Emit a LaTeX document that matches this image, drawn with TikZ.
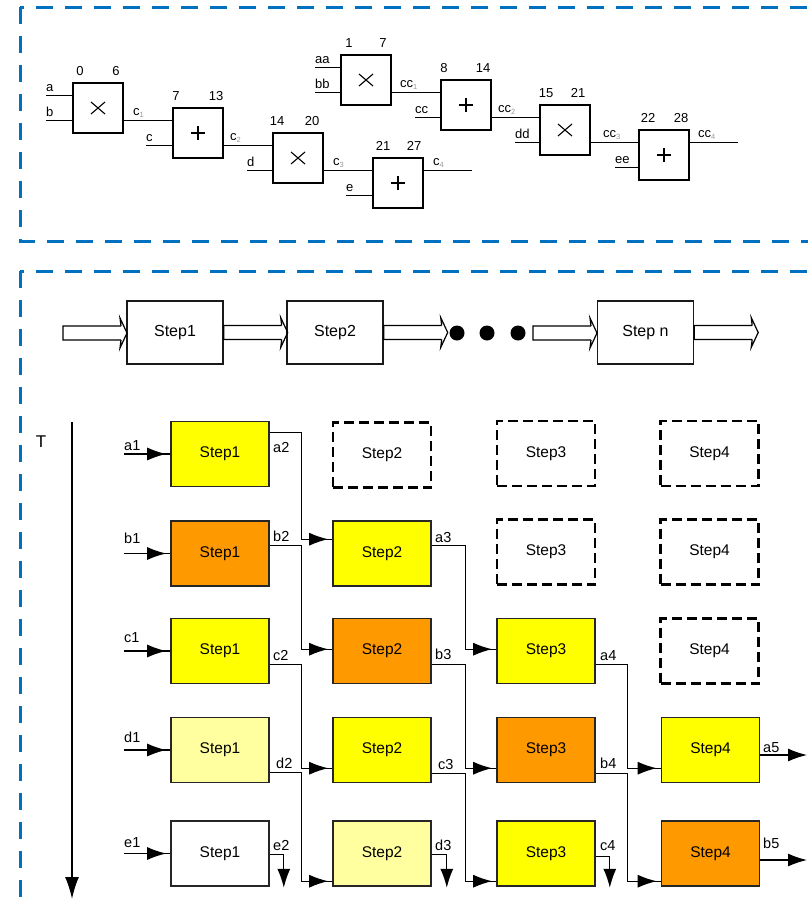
\documentclass[tikz,border=0pt]{standalone}
\usepackage{fontspec}
\setmainfont{Liberation Sans}
\usetikzlibrary{arrows.meta,calc}
\definecolor{frameblue}{HTML}{0070C0}
\definecolor{yel}{HTML}{FFFF00}
\definecolor{org}{HTML}{FF9900}
\definecolor{lyel}{HTML}{FFFFA0}
\newcommand\sbs[1]{\raisebox{-2pt}{\fontsize{7.5pt}{7.5pt}\selectfont\textcolor{black!40}{#1}}}
\newcommand\steplink[5]{\draw[flow] ($(#1.north east)+(0,#2)$) -| ($(#4.north west)+(-#3,#5)$) -- ($(#4.north west)+(0,#5)$);}
\begin{document}
\begin{tikzpicture}[x=1pt, y=-1pt,
  bframe/.style={draw=frameblue, line width=3pt, dash pattern=on 17pt off 12pt},
  gate/.style={draw, line width=1.4pt, minimum width=50pt, minimum height=50pt, inner sep=0pt, outer sep=0pt, anchor=north west},
  mulg/.style={gate, path picture={\draw[line width=1.1pt] (path picture bounding box.center) +(-7,-6) -- +(7,6) +(-7,6) -- +(7,-6);}},
  addg/.style={gate, path picture={\draw[line width=1.1pt] (path picture bounding box.center) +(-7,0) -- +(7,0) +(0,-7) -- +(0,7);}},
  wire/.style={line width=1.3pt},
  tl/.style={font=\fontsize{13pt}{13pt}\selectfont, inner sep=0pt},
  gl/.style={font=\fontsize{14.5pt}{14.5pt}\selectfont, inner sep=0pt, anchor=base west},
  pbox/.style={draw=black!90, line width=1.4pt, minimum width=96pt, minimum height=63pt, inner sep=0pt, font=\fontsize{16pt}{16pt}\selectfont},
  sbox/.style={draw=black!85, line width=1.6pt, minimum width=98pt, minimum height=65pt, inner sep=0pt, font=\fontsize{15.5pt}{16pt}\selectfont},
  ghost/.style={sbox, draw=black, line width=2.8pt, dash pattern=on 10pt off 5pt},
  flow/.style={line width=1.3pt, postaction={draw, line width=1.3pt, -{Latex[length=19pt,width=13pt]}, shorten >=4pt}},
  dflow/.style={line width=1.3pt, -{Latex[length=19pt,width=13pt]}},
  harrow/.pic={\draw[line width=1.2pt, line join=miter]
     (58,-7) -- (0,-7) -- (0,7) -- (58,7)
     (58,-7) -- (57,-15) -- (64,0) -- (57,15) -- (58,7);}
]
\useasboundingbox (0,0) rectangle (808,908);
\begin{scope}
  \clip (0,0) rectangle (808,908);
  \draw[bframe] (20,7) rectangle (832,241);
  \draw[bframe] (20,271) rectangle (832,940);
\end{scope}

% ---------- top: operation chains ----------
\node[mulg] (g1) at (73,83) {};
\node[addg] (g2) at (173,108) {};
\node[mulg] (g3) at (273,133) {};
\node[addg] (g4) at (373,158) {};
\node[mulg] (h1) at (341,55) {};
\node[addg] (h2) at (441,80) {};
\node[mulg] (h3) at (540,105) {};
\node[addg] (h4) at (639,130) {};

\coordinate (ia) at (46,95.5);
\coordinate (ib) at (46,120.5);
\coordinate (ic) at (146,145.5);
\coordinate (id) at (247,170.5);
\coordinate (ie) at (346,195.5);
\coordinate (oc4) at ($(g4.east)+(49,-12.5)$);
\coordinate (iaa) at (315,67.5);
\coordinate (ibb) at (315,92.5);
\coordinate (icc) at (415,117.5);
\coordinate (idd) at (515,142.5);
\coordinate (iee) at (615,167.5);
\coordinate (occ4) at ($(h4.east)+(49,-12.5)$);

\draw[wire] (ia) -- (ia -| g1.west);
\draw[wire] (ib) -- (ib -| g1.west);
\draw[wire] ($(g1.east)+(0,12.5)$) -- ($(g2.west)+(0,-12.5)$);
\draw[wire] (ic) -- (ic -| g2.west);
\draw[wire] ($(g2.east)+(0,12.5)$) -- ($(g3.west)+(0,-12.5)$);
\draw[wire] (id) -- (id -| g3.west);
\draw[wire] ($(g3.east)+(0,12.5)$) -- ($(g4.west)+(0,-12.5)$);
\draw[wire] (ie) -- (ie -| g4.west);
\draw[wire] ($(g4.east)+(0,-12.5)$) -- (oc4);

\draw[wire] (iaa) -- (iaa -| h1.west);
\draw[wire] (ibb) -- (ibb -| h1.west);
\draw[wire] ($(h1.east)+(0,12.5)$) -- ($(h2.west)+(0,-12.5)$);
\draw[wire] (icc) -- (icc -| h2.west);
\draw[wire] ($(h2.east)+(0,12.5)$) -- ($(h3.west)+(0,-12.5)$);
\draw[wire] (idd) -- (idd -| h3.west);
\draw[wire] ($(h3.east)+(0,12.5)$) -- ($(h4.west)+(0,-12.5)$);
\draw[wire] (iee) -- (iee -| h4.west);
\draw[wire] ($(h4.east)+(0,-12.5)$) -- (occ4);

% input labels
\node[tl, anchor=base west] at (46,91.5) {a};
\node[tl, anchor=base west] at (46,116.5) {b};
\node[tl, anchor=base west] at (146,141.5) {c};
\node[tl, anchor=base west] at (247,166.5) {d};
\node[tl, anchor=base west] at (346,191.5) {e};
\node[tl, anchor=base west] at (315,63.5) {aa};
\node[tl, anchor=base west] at (315,88.5) {bb};
\node[tl, anchor=base west] at (415,113.5) {cc};
\node[tl, anchor=base west] at (515,138.5) {dd};
\node[tl, anchor=base west] at (615,163.5) {ee};
% output labels
\node[tl, anchor=base west] at (133,115.5) {c\sbs{1}};
\node[tl, anchor=base west] at (230,140.5) {c\sbs{2}};
\node[tl, anchor=base west] at (333,165.5) {c\sbs{3}};
\node[tl, anchor=base west] at (433,165.5) {c\sbs{4}};
\node[tl, anchor=base west] at (400,87.5) {cc\sbs{1}};
\node[tl, anchor=base west] at (498,112.5) {cc\sbs{2}};
\node[tl, anchor=base west] at (603,137.5) {cc\sbs{3}};
\node[tl, anchor=base west] at (698,137.5) {cc\sbs{4}};
% timing numbers
\node[tl] at (80,71) {0};    \node[tl] at (116,71) {6};
\node[tl] at (176,96) {7};   \node[tl] at (216,96) {13};
\node[tl] at (277,121) {14}; \node[tl] at (312,121) {20};
\node[tl] at (383,146) {21}; \node[tl] at (414,146) {27};
\node[tl] at (349,43) {1};   \node[tl] at (383,43) {7};
\node[tl] at (444,68) {8};   \node[tl] at (483,68) {14};
\node[tl] at (546,93) {15};  \node[tl] at (578,93) {21};
\node[tl] at (648,118) {22}; \node[tl] at (681,118) {28};

% ---------- pipeline row ----------
\node[pbox] (P1) at (175,332.5) {Step1};
\node[pbox] (P2) at (335,332.5) {Step2};
\node[pbox] (Pn) at (645.5,332.5) {Step n};
\coordinate (pin) at (63,333);
\coordinate (pmid) at (533,333);
\pic at (pin) {harrow};
\pic at (P1.east) {harrow};
\pic at (P2.east) {harrow};
\pic at (pmid) {harrow};
\pic at (Pn.east) {harrow};
\fill (457,333) circle[radius=7.5pt];
\fill (487,333) circle[radius=7.5pt];
\fill (518,333) circle[radius=7.5pt];

% ---------- time axis ----------
\coordinate (t0) at (72,422);
\coordinate (t1) at (72,899);
\draw[line width=1.5pt, -{Latex[length=22pt,width=14pt]}] (t0) -- (t1);
\node[font=\fontsize{17pt}{17pt}\selectfont, inner sep=0pt] (T) at (41,442) {T};

% ---------- grid ----------
\node[sbox, fill=yel] (A1) at (220,454) {Step1};
\node[ghost] (A2) at (382,455) {Step2};
\node[ghost] (A3) at (546,453.5) {Step3};
\node[ghost] (A4) at (709.5,453.5) {Step4};

\node[sbox, fill=org] (B1) at (220,553.5) {Step1};
\node[sbox, fill=yel] (B2) at (382,553.5) {Step2};
\node[ghost] (B3) at (546,552) {Step3};
\node[ghost] (B4) at (709.5,552) {Step4};

\node[sbox, fill=yel] (C1) at (220,651) {Step1};
\node[sbox, fill=org] (C2) at (382,651) {Step2};
\node[sbox, fill=yel] (C3) at (546,651) {Step3};
\node[ghost] (C4) at (709.5,651) {Step4};

\node[sbox, fill=lyel] (D1) at (220,750) {Step1};
\node[sbox, fill=yel] (D2) at (382,750) {Step2};
\node[sbox, fill=org] (D3) at (546,750) {Step3};
\node[sbox, fill=yel] (D4) at (710.5,750) {Step4};

\node[sbox, fill=white] (E1) at (220,853.5) {Step1};
\node[sbox, fill=lyel] (E2) at (382,853.5) {Step2};
\node[sbox, fill=yel] (E3) at (546,853.5) {Step3};
\node[sbox, fill=org] (E4) at (710.5,853.5) {Step4};

% inputs
\coordinate (xa) at (124,454);
\coordinate (xb) at (124,553.5);
\coordinate (xc) at (124,651);
\coordinate (xd) at (124,750);
\coordinate (xe) at (124,853.5);
\draw[flow] (xa) -- (A1.west);
\draw[flow] (xb) -- (B1.west);
\draw[flow] (xc) -- (C1.west);
\draw[flow] (xd) -- (D1.west);
\draw[flow] (xe) -- (E1.west);

% links between steps
\steplink{A1}{12}{31}{B2}{19}
\steplink{B1}{25}{31}{C2}{31.5}
\steplink{C1}{46.5}{31}{D2}{51.5}
\steplink{D1}{55.5}{31}{E2}{61}
\steplink{B2}{25}{31}{C3}{31.5}
\steplink{C2}{46.5}{31}{D3}{51.5}
\steplink{D2}{56.5}{31}{E3}{61}
\steplink{C3}{46.5}{33}{D4}{51.5}
\steplink{D3}{56.5}{33}{E4}{61}

% end arrows
\draw[dflow] ($(E1.north east)+(0,34)$) -| ($(E1.south east)+(14,1)$);
\draw[dflow] ($(E2.north east)+(0,34)$) -| ($(E2.south east)+(15,1)$);
\draw[dflow] ($(E3.north east)+(0,36)$) -| ($(E3.south east)+(14,1)$);
\coordinate (oa5) at (807,755);
\coordinate (ob5) at (807,860);
\draw[dflow] (D4.east |- oa5) -- (oa5);
\draw[dflow] (E4.east |- ob5) -- (ob5);

% grid labels
\node[gl] at (124,450) {a1};
\node[gl] at (124,543.5) {b1};
\node[gl] at (124,642) {c1};
\node[gl] at (124,742) {d1};
\node[gl] at (124,847) {e1};
\node[gl] at (273,452) {a2};
\node[gl] at (273,541) {b2};
\node[gl] at (273,660) {c2};
\node[gl] at (276,768) {d2};
\node[gl] at (273,850) {e2};
\node[gl] at (435,542) {a3};
\node[gl] at (435,659) {b3};
\node[gl] at (438,769) {c3};
\node[gl] at (435,850) {d3};
\node[gl] at (600,660) {a4};
\node[gl] at (600,768) {b4};
\node[gl] at (600,850) {c4};
\node[gl] at (763,752) {a5};
\node[gl] at (763,848) {b5};
\end{tikzpicture}
\end{document}
